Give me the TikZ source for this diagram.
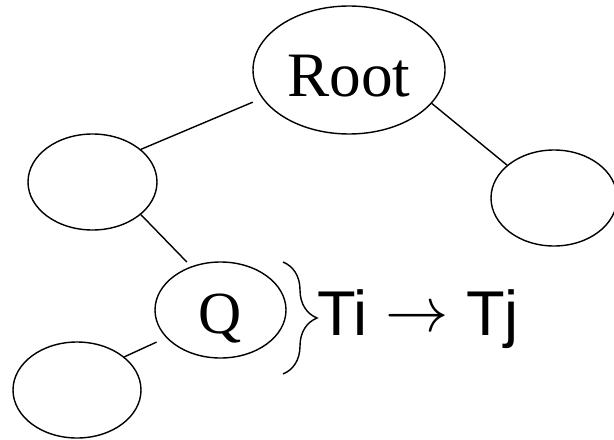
\documentclass[tikz,border=0pt]{standalone}
\usepackage{fontspec}
\setmainfont{Liberation Serif}
\newfontfamily\labelsans{Liberation Sans}
\usetikzlibrary{shapes.geometric,decorations.pathreplacing}
\tikzset{
  tnode/.style={draw, ellipse, line width=0.8pt, inner sep=0pt,
                minimum width=2.58cm, minimum height=1.92cm,
                font=\fontsize{34}{40}\selectfont},
  tlink/.style={line width=0.8pt},
}
\newcommand{\bigto}{{\fontsize{10}{12}\selectfont\raisebox{0.08cm}{\scalebox{3.6}{$\rightarrow$}}}}

\begin{document}
\begin{tikzpicture}
\useasboundingbox (0,0) rectangle (12.28,-8.78);
% Tree nodes
\node[tnode, minimum width=3.84cm, minimum height=2.56cm, text height=1.08cm, text depth=0cm,
      font=\fontsize{36}{40}\selectfont] (root) at (6.98,-1.40) {Root};
\node[tnode] (left) at (1.85,-3.64) {};
\node[tnode, minimum width=2.52cm] (right) at (11.08,-3.96) {};
\node[tnode, minimum width=2.62cm, text height=0.92cm, text depth=0cm] (q) at (4.41,-6.20) {Q};
\node[tnode, minimum width=2.56cm] (low) at (1.54,-7.80) {};

% Links
\draw[tlink, shorten >=0.2cm] (left.34) -- (root.198);
\draw[tlink] (root.338) -- (right.145);
\draw[tlink, shorten >=0.12cm] (left.326) -- (q.124);
\draw[tlink, shorten <=0.21cm] (q.207) -- (low.35);

% Brace and transition label
\draw[line width=0.8pt, decorate, decoration={brace, amplitude=0.68cm}] (5.66,-5.24) -- (5.66,-7.48);
\node[anchor=base west, inner sep=0pt, font=\labelsans\fontsize{36}{40}\selectfont] (trans) at (6.34,-6.70) {Ti \bigto{} Tj};
\end{tikzpicture}
\end{document}
